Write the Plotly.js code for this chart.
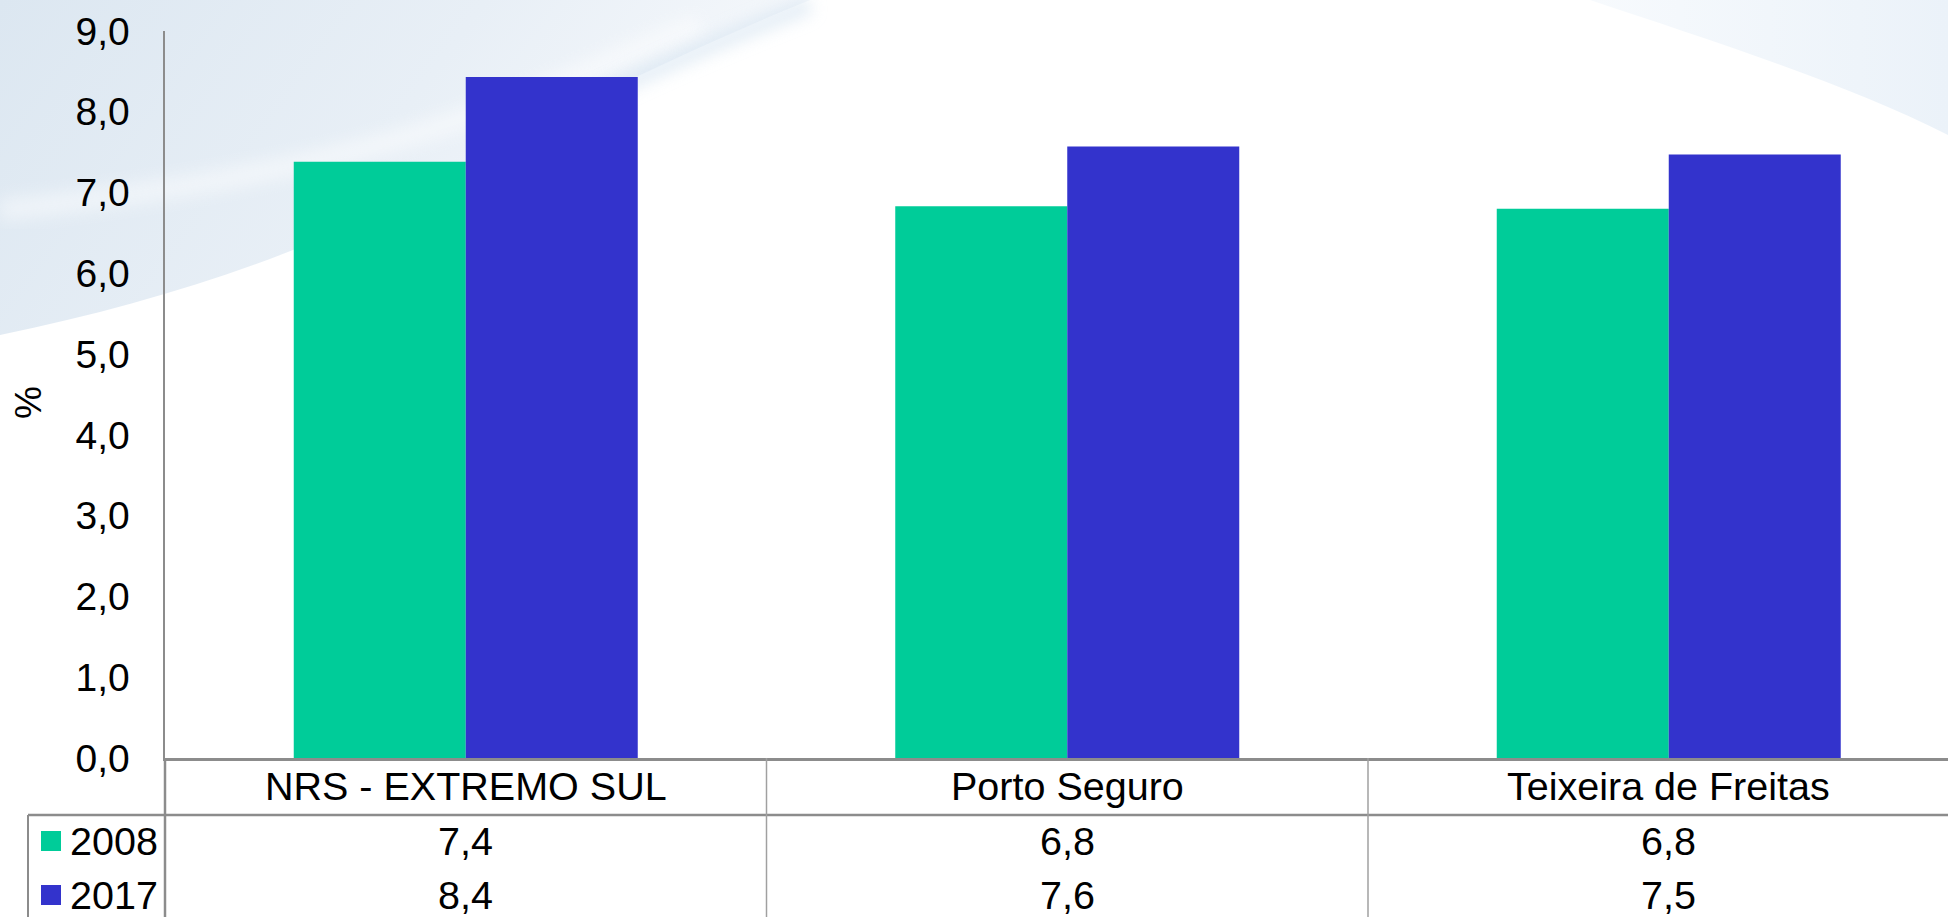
<!DOCTYPE html>
<html>
<head>
<meta charset="utf-8">
<script src="https://cdn.plot.ly/plotly-3.0.1.min.js"></script>
<style>
  html, body { margin: 0; padding: 0; background: #ffffff; }
  #wrap { position: relative; width: 1948px; height: 917px; overflow: hidden; }
  #bg { position: absolute; left: 0; top: 0; }
  #chart { position: absolute; left: 0; top: 0; width: 1948px; height: 917px; }
</style>
</head>
<body>
<div id="wrap">
<svg id="bg" width="1948" height="917" xmlns="http://www.w3.org/2000/svg">
  <defs>
    <linearGradient id="gL" x1="0" y1="0" x2="1" y2="0.3">
      <stop offset="0" stop-color="#dce7f1"/>
      <stop offset="0.55" stop-color="#e8eff6"/>
      <stop offset="1" stop-color="#f7f9fc"/>
    </linearGradient>
    <linearGradient id="gR" x1="0" y1="0" x2="1" y2="0">
      <stop offset="0" stop-color="#f7fafd"/>
      <stop offset="1" stop-color="#ebf2f9"/>
    </linearGradient>
    <filter id="blur"><feGaussianBlur stdDeviation="8"/></filter>
  </defs>
  <path d="M0,0 L810,0 C 700,45 560,110 440,180 C 330,245 170,300 0,335 Z" fill="url(#gL)"/>
  <path d="M0,210 C 150,195 300,170 430,130 C 540,95 620,55 700,25" stroke="#ffffff" stroke-width="22" fill="none" opacity="0.45" filter="url(#blur)"/>
  <path d="M560,115 C 640,75 720,40 810,5" stroke="#cddfee" stroke-width="16" fill="none" opacity="0.55" filter="url(#blur)"/>
  <path d="M1590,0 C 1710,40 1850,85 1948,135 L1948,0 Z" fill="url(#gR)"/>
</svg>
<div id="chart"></div>
</div>
<script>
// ---- data ----
const categories = ['NRS - EXTREMO SUL', 'Porto Seguro', 'Teixeira de Freitas'];
const seriesNames = ['2008', '2017'];
const values2008 = [7.38, 6.83, 6.80];
const values2017 = [8.43, 7.57, 7.47];
const seriesColors = ['#00CC99', '#3333CC'];
const yTickVals = [0, 1, 2, 3, 4, 5, 6, 7, 8, 9];
const yAxisLabel = '%';

const allSeries = [values2008, values2017];
const FONT = 'Liberation Sans, Arial, sans-serif';
const fmt = v => v.toFixed(1).replace('.', ',');

const traces = allSeries.map((vals, i) => ({
  type: 'bar',
  name: seriesNames[i],
  x: categories.map((c, k) => k),
  y: vals,
  marker: { color: seriesColors[i], line: { width: 0 } },
  hoverinfo: 'skip'
}));

// table geometry (paper coords relative to plot area)
const L = 165, PW = 1948 - 165, T = 31, B = 758, PH = B - T;
const px = x => (x - L) / PW;
const py = y => (B - y) / PH;

const lineGray = '#8c8c8c';
const thinGray = '#a0a0a0';
const TXT = 39.5;

const shapes = [
  { type: 'line', xref: 'paper', yref: 'paper', x0: 0, x1: 0, y0: 0, y1: py(917), line: { color: lineGray, width: 2.5 } },
  { type: 'line', xref: 'paper', yref: 'paper', x0: px(28), x1: 1, y0: py(815), y1: py(815), line: { color: lineGray, width: 2.5 } },
  { type: 'line', xref: 'paper', yref: 'paper', x0: px(28), x1: px(28), y0: py(815), y1: py(917), line: { color: lineGray, width: 2 } }
];
for (let k = 0; k < categories.length - 1; k++) {
  shapes.push({ type: 'line', xref: 'x', yref: 'paper', x0: k + 0.5, x1: k + 0.5, y0: 0, y1: py(917), line: { color: thinGray, width: 1.5 } });
}
const rowCenters = [841, 895];
allSeries.forEach((vals, i) => {
  shapes.push({ type: 'rect', xref: 'paper', yref: 'paper',
    x0: px(41), x1: px(61), y0: py(rowCenters[i] - 10), y1: py(rowCenters[i] + 10),
    fillcolor: seriesColors[i], line: { width: 0 } });
});

const annotations = [];
categories.forEach((c, k) => {
  annotations.push({ xref: 'x', yref: 'paper', x: k, y: py(786), text: c, showarrow: false,
    xanchor: 'center', yanchor: 'middle', font: { family: FONT, size: TXT, color: '#000' } });
});
allSeries.forEach((vals, i) => {
  annotations.push({ xref: 'paper', yref: 'paper', x: px(68), y: py(rowCenters[i]), text: seriesNames[i], showarrow: false,
    xanchor: 'left', yanchor: 'middle', font: { family: FONT, size: TXT, color: '#000' } });
  vals.forEach((v, k) => {
    annotations.push({ xref: 'x', yref: 'paper', x: k, y: py(rowCenters[i]), text: fmt(v), showarrow: false,
      xanchor: 'center', yanchor: 'middle', font: { family: FONT, size: TXT, color: '#000' } });
  });
});
annotations.push({ xref: 'paper', yref: 'paper', x: px(28), y: py(403), text: yAxisLabel, textangle: -90, showarrow: false,
  xanchor: 'center', yanchor: 'middle', font: { family: FONT, size: 37, color: '#000' } });

const catW = 601.5;
const layout = {
  width: 1948, height: 917,
  margin: { l: L, r: 0, t: T, b: 917 - B, pad: 0 },
  paper_bgcolor: 'rgba(0,0,0,0)',
  plot_bgcolor: 'rgba(0,0,0,0)',
  separators: ',.',
  showlegend: false,
  barmode: 'group',
  bargap: 1 - 2 * 172 / catW,
  bargroupgap: 0,
  xaxis: {
    range: [-0.5, -0.5 + PW / catW],
    showticklabels: false, ticks: '', showgrid: false, zeroline: false,
    showline: true, linecolor: lineGray, linewidth: 2.5, fixedrange: true
  },
  yaxis: {
    range: [0, 9], tickvals: yTickVals, tickformat: '.1f',
    ticks: '', ticklabelstandoff: 25, showgrid: false, zeroline: false,
    showline: true, linecolor: lineGray, linewidth: 2.5,
    tickfont: { family: FONT, size: 39, color: '#000' }, fixedrange: true
  },
  shapes: shapes,
  annotations: annotations,
  font: { family: FONT }
};

Plotly.newPlot('chart', traces, layout, { displayModeBar: false, staticPlot: true });
</script>
</body>
</html>
